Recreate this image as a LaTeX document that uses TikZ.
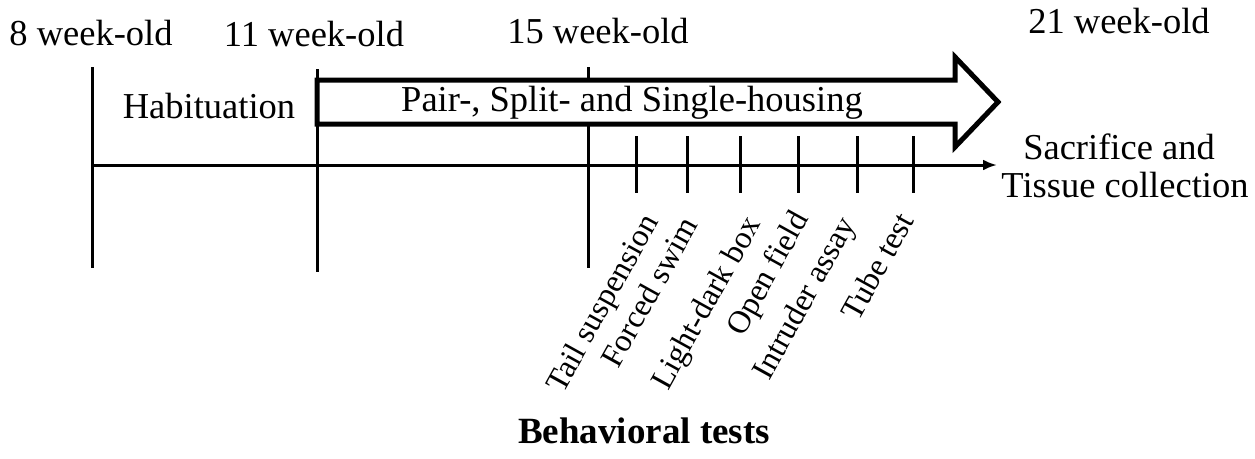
\documentclass[tikz,border=0pt]{standalone}
\usepackage{fontspec}
\setmainfont{Liberation Serif}
\usetikzlibrary{arrows.meta}
\begin{document}
\begin{tikzpicture}[x=1pt,y=-1pt,
  lbl/.style={font=\fontsize{36.5}{40}\selectfont, inner sep=0pt, anchor=base},
  rlbl/.style={font=\fontsize{32}{36}\selectfont, inner sep=0pt, anchor=base west, rotate=61},
  tl/.style={line width=3pt},
  tick/.style={line width=3pt}]
\useasboundingbox (0,0) rectangle (1255,458);
% time lines
\coordinate (w8t) at (92,67);  \coordinate (w8b) at (92,268);
\coordinate (w11t) at (317,69); \coordinate (w11b) at (317,272);
\coordinate (w15t) at (588,67); \coordinate (w15b) at (588,268);
\draw[tl] (w8t) -- (w8b);
\draw[tl] (w11t) -- (w11b);
\draw[tl] (w15t) -- (w15b);
% axis
\coordinate (ax0) at (92,165); \coordinate (ax1) at (997,165);
\draw[tl,-{Latex[length=14pt,width=11pt]}] (ax0) -- (ax1);
% ticks
\foreach \x [count=\i] in {636,687,740,798,857,913}{
  \coordinate (t\i a) at (\x,136); \coordinate (t\i b) at (\x,193);
  \draw[tick] (t\i a) -- (t\i b);
}
% big arrow
\draw[line width=5pt, fill=white, miter limit=20] (317,80) -- (955,80) -- (955,57) -- (998,102) -- (955,147) -- (955,124) -- (317,124) -- cycle;
% labels
\node[lbl] (l8) at (91,45) {8 week-old};
\node[lbl] (l11) at (314,46) {11 week-old};
\node[lbl] (l15) at (598,43) {15 week-old};
\node[lbl] (l21) at (1119,33) {21 week-old};
\node[lbl] (hab) at (209,118) {Habituation};
\node[lbl] (pair) at (632,111) {Pair-, Split- and Single-housing};
\node[lbl] (sac1) at (1119,159) {Sacrifice and};
\node[lbl] (sac2) at (1125,197) {Tissue collection};
\node[lbl, font=\fontsize{37}{40}\selectfont\bfseries] (beh) at (644,443) {Behavioral tests};
% rotated test labels
\node[rlbl] (r1) at (563,395) {Tail suspension};
\node[rlbl] (r2) at (618,370) {Forced swim};
\node[rlbl] (r3) at (668,392) {Light-dark box};
\node[rlbl] (r4) at (743,338) {Open field};
\node[rlbl] (r5) at (769,382) {Intruder assay};
\node[rlbl] (r6) at (858,323) {Tube test};
\end{tikzpicture}
\end{document}
